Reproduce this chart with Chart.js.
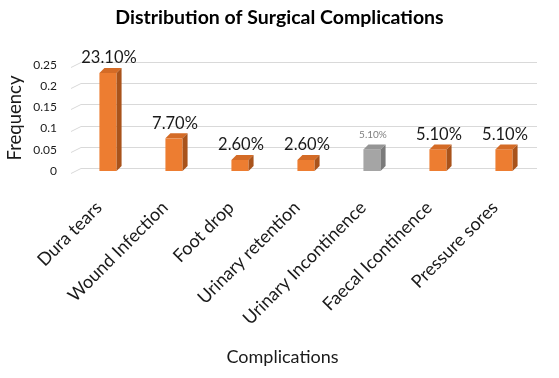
<!DOCTYPE html>
<html>
<head>
<meta charset="utf-8">
<script src="https://cdn.jsdelivr.net/npm/chart.js@4.4.1/dist/chart.umd.min.js"></script>
<style>
  html, body { margin: 0; padding: 0; background: #fff; }
  #wrap { width: 559px; height: 378px; }
</style>
</head>
<body>
<div id="wrap"><canvas id="chart" width="559" height="378"></canvas></div>
<script>
// chart data
const categories = ['Dura tears', 'Wound Infection', 'Foot drop', 'Urinary retention',
    'Urinary Incontinence', 'Faecal Icontinence', 'Pressure sores'];
const frequency = [0.231, 0.077, 0.026, 0.026, 0.051, 0.051, 0.051];
const pctLabels = ['23.10%', '7.70%', '2.60%', '2.60%', '5.10%', '5.10%', '5.10%'];
const yTicks = [0, 0.05, 0.1, 0.15, 0.2, 0.25];
const highlighted = [false, false, false, false, true, false, false];

const chartTitle = 'Distribution of Surgical Complications';
const xTitle = 'Complications';

const FONT = 'Lato, "Open Sans", sans-serif';
const depth = 5;

function faceColor(i) { return highlighted[i] ? '#A5A5A5' : '#ED7D31'; }
function topColor(i) { return highlighted[i] ? '#959595' : '#D46B26'; }
function sideColor(i) { return highlighted[i] ? '#7B7B7B' : '#A9531B'; }

// back wall grid lines with the little slanted floor piece on the left
const gridPlugin = {
    id: 'grid3d',
    beforeDatasetsDraw(chart) {
        const ctx = chart.ctx;
        const y = chart.scales.y;
        const area = chart.chartArea;
        ctx.save();
        ctx.strokeStyle = '#D9D9D9';
        ctx.lineWidth = 1;
        yTicks.forEach(v => {
            const py = Math.round(y.getPixelForValue(v)) + 0.5;
            ctx.beginPath();
            ctx.moveTo(area.left - 4, py + 2);
            ctx.lineTo(area.left + 6, py - 3);
            ctx.lineTo(area.right, py - 3);
            ctx.stroke();
        });
        ctx.restore();
    }
};

// fake 3d faces on each bar, then the value labels
const barPlugin = {
    id: 'bar3d',
    afterDatasetsDraw(chart) {
        const ctx = chart.ctx;
        const meta = chart.getDatasetMeta(0);
        ctx.save();
        meta.data.forEach((bar, i) => {
            const w = bar.width;
            const l = bar.x - w / 2, r = bar.x + w / 2;
            const t = bar.y, b = bar.base;

            ctx.fillStyle = topColor(i);
            ctx.beginPath();
            ctx.moveTo(l, t);
            ctx.lineTo(l + depth, t - depth);
            ctx.lineTo(r + depth, t - depth);
            ctx.lineTo(r, t);
            ctx.closePath();
            ctx.fill();

            ctx.fillStyle = sideColor(i);
            ctx.beginPath();
            ctx.moveTo(r, t);
            ctx.lineTo(r + depth, t - depth);
            ctx.lineTo(r + depth, b - depth);
            ctx.lineTo(r, b);
            ctx.closePath();
            ctx.fill();

            ctx.textAlign = 'center';
            ctx.textBaseline = 'middle';
            if (highlighted[i]) {
                ctx.font = '10px ' + FONT;
                ctx.fillStyle = '#7F7F7F';
            } else {
                ctx.font = '16.5px ' + FONT;
                ctx.fillStyle = '#1a1a1a';
            }
            ctx.fillText(pctLabels[i], bar.x + 1, t - 15);
        });
        ctx.restore();
    }
};

// main title and x title, centred like the excel original rather than on the plot
const titlePlugin = {
    id: 'titles',
    afterDraw(chart) {
        const ctx = chart.ctx;
        ctx.save();
        ctx.textAlign = 'center';
        ctx.textBaseline = 'middle';
        ctx.fillStyle = '#000';
        ctx.font = 'bold 19.5px ' + FONT;
        ctx.fillText(chartTitle, chart.width / 2, 18);
        ctx.fillStyle = '#1a1a1a';
        ctx.font = '18px ' + FONT;
        ctx.fillText(xTitle, chart.width / 2 + 3, 357);
        ctx.restore();
    }
};

new Chart(document.getElementById('chart').getContext('2d'), {
    type: 'bar',
    data: {
        labels: categories,
        datasets: [{
            data: frequency,
            backgroundColor: frequency.map((v, i) => faceColor(i)),
            borderWidth: 0,
            barPercentage: 0.5,
            categoryPercentage: 0.52
        }]
    },
    options: {
        responsive: false,
        animation: false,
        layout: { padding: { left: 0, right: 22, top: 65, bottom: 6 } },
        plugins: {
            legend: { display: false },
            tooltip: { enabled: false },
            title: { display: false }
        },
        scales: {
            x: {
                afterFit(scale) {
                    // labels hang past the plot like the original; axis taller than chart.js allows
                    scale.paddingLeft = 0;
                    scale.paddingRight = 0;
                    scale.height = 201;
                },
                grid: { display: false, drawTicks: false },
                border: { display: false },
                ticks: {
                    color: '#1a1a1a',
                    font: { family: FONT, size: 18 },
                    minRotation: 45,
                    maxRotation: 45,
                    labelOffset: -9,
                    padding: 26
                },
                title: { display: false }
            },
            y: {
                min: 0,
                max: 0.25,
                afterBuildTicks(axis) { axis.ticks = yTicks.map(v => ({ value: v })); },
                afterFit(scale) { scale.width = 75; },
                grid: { display: false, drawTicks: false },
                border: { display: false },
                ticks: {
                    color: '#1a1a1a',
                    font: { family: FONT, size: 12 },
                    padding: 18,
                    callback: v => String(+v.toFixed(2))
                },
                title: {
                    display: true,
                    text: 'Frequency',
                    color: '#1a1a1a',
                    font: { family: FONT, size: 18.5 },
                    padding: { top: 4, bottom: 8 }
                }
            }
        }
    },
    plugins: [gridPlugin, barPlugin, titlePlugin]
});
</script>
</body>
</html>
